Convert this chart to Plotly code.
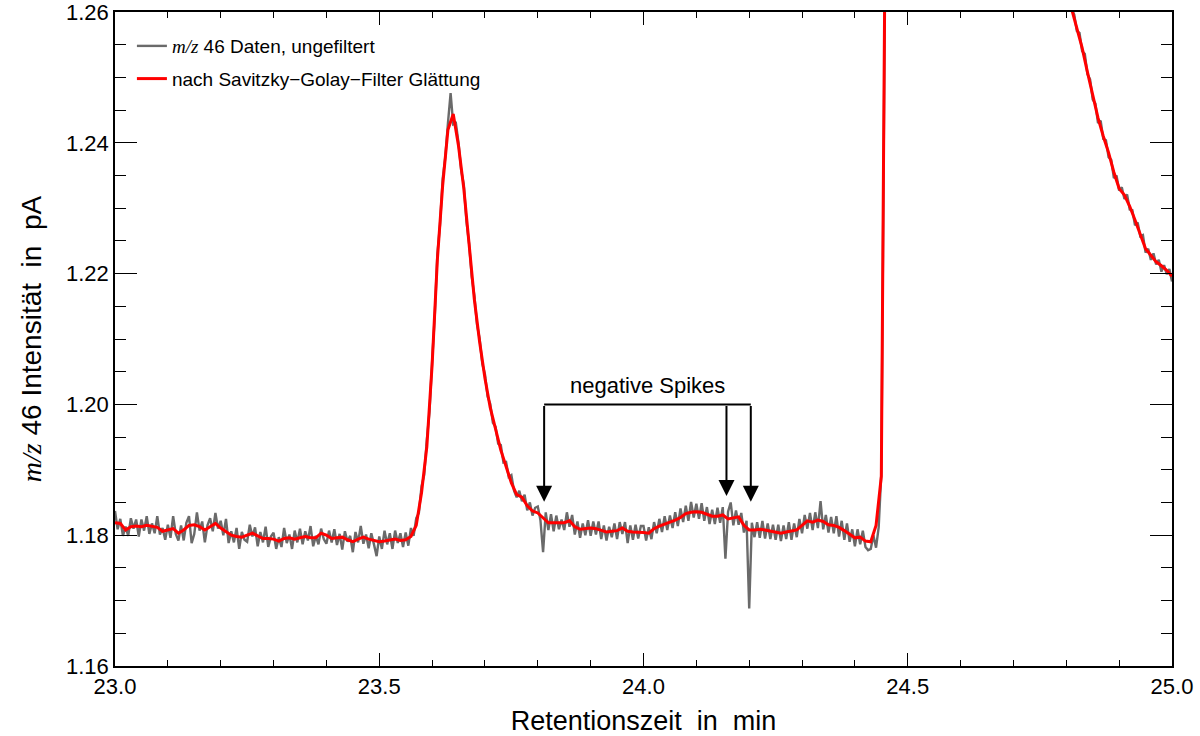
import numpy as np
import plotly.graph_objects as go

# ---------------- data ----------------
# raw m/z 46 signal, sampled every 0.005 min starting at 23.000 min (one row = 0.05 min)
raw_t0 = 23.0
raw_dt = 0.005
raw_signal = [
    1.1837, 1.1809, 1.1825, 1.1799, 1.1813, 1.1799, 1.1826, 1.1810, 1.1824, 1.1798,  # 23.00
    1.1824, 1.1807, 1.1829, 1.1802, 1.1818, 1.1803, 1.1829, 1.1801, 1.1811, 1.1793,  # 23.05
    1.1816, 1.1796, 1.1829, 1.1802, 1.1792, 1.1815, 1.1792, 1.1819, 1.1829, 1.1788,  # 23.10
    1.1802, 1.1835, 1.1807, 1.1821, 1.1789, 1.1815, 1.1826, 1.1806, 1.1834, 1.1810,  # 23.15
    1.1822, 1.1800, 1.1825, 1.1788, 1.1806, 1.1789, 1.1811, 1.1779, 1.1805, 1.1793,  # 23.20
    1.1790, 1.1816, 1.1798, 1.1812, 1.1783, 1.1805, 1.1789, 1.1813, 1.1782, 1.1798,  # 23.25
    1.1804, 1.1779, 1.1797, 1.1782, 1.1811, 1.1788, 1.1801, 1.1779, 1.1807, 1.1789,  # 23.30
    1.1810, 1.1786, 1.1806, 1.1792, 1.1814, 1.1783, 1.1799, 1.1786, 1.1810, 1.1794,  # 23.35
    1.1787, 1.1807, 1.1789, 1.1809, 1.1785, 1.1802, 1.1778, 1.1806, 1.1790, 1.1799,  # 23.40
    1.1774, 1.1805, 1.1789, 1.1814, 1.1787, 1.1801, 1.1780, 1.1803, 1.1786, 1.1768,  # 23.45
    1.1798, 1.1779, 1.1807, 1.1786, 1.1803, 1.1779, 1.1807, 1.1788, 1.1803, 1.1782,  # 23.50
    1.1804, 1.1784, 1.1811, 1.1799, 1.1826, 1.1834, 1.1875, 1.1892, 1.1946, 1.1988,  # 23.55
    1.2065, 1.2135, 1.2230, 1.2275, 1.2345, 1.2378, 1.2430, 1.2476, 1.2428, 1.2430,  # 23.60
    1.2400, 1.2358, 1.2336, 1.2280, 1.2246, 1.2195, 1.2166, 1.2122, 1.2100, 1.2062,  # 23.65
    1.2046, 1.2012, 1.2001, 1.1972, 1.1966, 1.1940, 1.1938, 1.1911, 1.1912, 1.1889,  # 23.70
    1.1892, 1.1868, 1.1858, 1.1868, 1.1852, 1.1862, 1.1838, 1.1850, 1.1830, 1.1842,  # 23.75
    1.1844, 1.1823, 1.1774, 1.1835, 1.1808, 1.1832, 1.1806, 1.1830, 1.1809, 1.1824,  # 23.80
    1.1808, 1.1835, 1.1813, 1.1831, 1.1801, 1.1821, 1.1796, 1.1818, 1.1800, 1.1823,  # 23.85
    1.1799, 1.1821, 1.1801, 1.1821, 1.1794, 1.1815, 1.1792, 1.1813, 1.1797, 1.1818,  # 23.90
    1.1794, 1.1820, 1.1802, 1.1820, 1.1788, 1.1815, 1.1793, 1.1816, 1.1795, 1.1814,  # 23.95
    1.1814, 1.1792, 1.1812, 1.1794, 1.1820, 1.1803, 1.1825, 1.1805, 1.1829, 1.1808,  # 24.00
    1.1830, 1.1811, 1.1835, 1.1814, 1.1841, 1.1820, 1.1845, 1.1822, 1.1851, 1.1827,  # 24.05
    1.1848, 1.1825, 1.1849, 1.1822, 1.1843, 1.1817, 1.1839, 1.1817, 1.1842, 1.1819,  # 24.10
    1.1843, 1.1764, 1.1836, 1.1850, 1.1815, 1.1838, 1.1816, 1.1834, 1.1804, 1.1822,  # 24.15
    1.1688, 1.1819, 1.1797, 1.1820, 1.1796, 1.1822, 1.1795, 1.1818, 1.1794, 1.1816,  # 24.20
    1.1793, 1.1816, 1.1791, 1.1815, 1.1794, 1.1820, 1.1793, 1.1818, 1.1797, 1.1825,  # 24.25
    1.1803, 1.1831, 1.1810, 1.1834, 1.1808, 1.1835, 1.1811, 1.1852, 1.1809, 1.1831,  # 24.30
    1.1804, 1.1828, 1.1803, 1.1829, 1.1798, 1.1822, 1.1793, 1.1818, 1.1790, 1.1809,  # 24.35
    1.1783, 1.1809, 1.1786, 1.1807, 1.1782, 1.1777, 1.1779, 1.1800, 1.1781, 1.1812,  # 24.40
    1.1895, 1.2450, 1.3000, 1.3600, 1.4200, 1.4600, 1.5000, 1.5250, 1.5450, 1.5600,  # 24.45
    1.5700, 1.5770, 1.5820, 1.5840, 1.5850, 1.5830, 1.5800, 1.5750, 1.5700, 1.5630,  # 24.50
    1.5560, 1.5480, 1.5400, 1.5300, 1.5210, 1.5110, 1.5020, 1.4920, 1.4830, 1.4730,  # 24.55
    1.4640, 1.4540, 1.4450, 1.4360, 1.4270, 1.4180, 1.4100, 1.4020, 1.3940, 1.3860,  # 24.60
    1.3790, 1.3720, 1.3650, 1.3580, 1.3520, 1.3460, 1.3400, 1.3340, 1.3290, 1.3240,  # 24.65
    1.3190, 1.3140, 1.3100, 1.3060, 1.3020, 1.2980, 1.2950, 1.2920, 1.2890, 1.2860,  # 24.70
    1.2835, 1.2810, 1.2785, 1.2760, 1.2740, 1.2720, 1.2700, 1.2680, 1.2665, 1.2650,  # 24.75
    1.2635, 1.2620, 1.2605, 1.2596, 1.2571, 1.2568, 1.2540, 1.2536, 1.2505, 1.2497,  # 24.80
    1.2466, 1.2460, 1.2430, 1.2434, 1.2406, 1.2404, 1.2378, 1.2374, 1.2346, 1.2350,  # 24.85
    1.2327, 1.2332, 1.2314, 1.2321, 1.2298, 1.2297, 1.2274, 1.2278, 1.2257, 1.2259,  # 24.90
    1.2232, 1.2238, 1.2221, 1.2231, 1.2214, 1.2221, 1.2203, 1.2213, 1.2199, 1.2207,  # 24.95
    1.2188,                                                                          # 25.00
]

# Savitzky-Golay smoothed signal, every 0.01 min starting at 23.00 min (one row = 0.1 min)
sg_t0 = 23.0
sg_dt = 0.01
sg_signal = [
    1.1819, 1.1818, 1.1808, 1.1813, 1.1814, 1.1813, 1.1815, 1.1814, 1.1812, 1.1806,  # 23.0
    1.1808, 1.1810, 1.1803, 1.1808, 1.1815, 1.1816, 1.1813, 1.1808, 1.1813, 1.1818,  # 23.1
    1.1811, 1.1805, 1.1800, 1.1798, 1.1797, 1.1800, 1.1803, 1.1799, 1.1795, 1.1795,  # 23.2
    1.1794, 1.1791, 1.1795, 1.1796, 1.1794, 1.1796, 1.1798, 1.1796, 1.1796, 1.1803,  # 23.3
    1.1800, 1.1795, 1.1796, 1.1797, 1.1793, 1.1790, 1.1794, 1.1797, 1.1794, 1.1792,  # 23.4
    1.1790, 1.1791, 1.1793, 1.1794, 1.1792, 1.1793, 1.1798, 1.1815, 1.1865, 1.1935,  # 23.5
    1.2060, 1.2222, 1.2335, 1.2420, 1.2444, 1.2395, 1.2330, 1.2240, 1.2160, 1.2095,  # 23.6
    1.2040, 1.1995, 1.1960, 1.1930, 1.1905, 1.1880, 1.1862, 1.1858, 1.1845, 1.1837,  # 23.7
    1.1834, 1.1826, 1.1819, 1.1819, 1.1819, 1.1819, 1.1822, 1.1813, 1.1809, 1.1810,  # 23.8
    1.1811, 1.1810, 1.1808, 1.1805, 1.1806, 1.1807, 1.1811, 1.1806, 1.1805, 1.1805,  # 23.9
    1.1804, 1.1803, 1.1810, 1.1814, 1.1817, 1.1819, 1.1823, 1.1827, 1.1833, 1.1835,  # 24.0
    1.1836, 1.1835, 1.1832, 1.1829, 1.1829, 1.1831, 1.1825, 1.1826, 1.1828, 1.1815,  # 24.1
    1.1808, 1.1808, 1.1809, 1.1808, 1.1806, 1.1804, 1.1803, 1.1805, 1.1806, 1.1808,  # 24.2
    1.1815, 1.1822, 1.1820, 1.1823, 1.1821, 1.1816, 1.1815, 1.1812, 1.1807, 1.1802,  # 24.3
    1.1796, 1.1797, 1.1791, 1.1790, 1.1815, 1.1890, 1.3000, 1.4200, 1.5000, 1.5450,  # 24.4
    1.5700, 1.5820, 1.5850, 1.5800, 1.5700, 1.5560, 1.5400, 1.5210, 1.5020, 1.4830,  # 24.5
    1.4640, 1.4450, 1.4270, 1.4100, 1.3940, 1.3790, 1.3650, 1.3520, 1.3400, 1.3290,  # 24.6
    1.3190, 1.3100, 1.3020, 1.2950, 1.2890, 1.2835, 1.2785, 1.2740, 1.2700, 1.2665,  # 24.7
    1.2635, 1.2605, 1.2575, 1.2545, 1.2508, 1.2472, 1.2438, 1.2410, 1.2385, 1.2355,  # 24.8
    1.2330, 1.2320, 1.2303, 1.2282, 1.2260, 1.2238, 1.2228, 1.2218, 1.2212, 1.2205,  # 24.9
    1.2196,                                                                          # 25.0
]

# annotation: the three marked negative spikes
spike_times = [23.812, 24.157, 24.203]
spike_tip_y = [1.1851, 1.1860, 1.1851]
bracket_y = 1.2000
spike_label = "negative Spikes"

x_range = [23.0, 25.0]
y_range = [1.16, 1.26]
y_ticks = [1.16, 1.18, 1.20, 1.22, 1.24, 1.26]
x_ticks = [23.0, 23.5, 24.0, 24.5, 25.0]

SERIF = "'Liberation Serif', 'Times New Roman', serif"
raw_name = f"<span style=\"font-family:{SERIF}\"><i>m/z</i></span> 46 Daten, ungefiltert"
sg_name = "nach Savitzky\u2212Golay\u2212Filter Glättung"
x_title = "Retentionszeit\u00a0\u00a0in\u00a0\u00a0min"
y_title = f"<span style=\"font-family:{SERIF}\"><i>m/z</i></span> 46 Intensität\u00a0\u00a0in\u00a0\u00a0pA"

# ---------------- figure ----------------
t_raw = np.round(raw_t0 + raw_dt * np.arange(len(raw_signal)), 4)
t_sg = np.round(sg_t0 + sg_dt * np.arange(len(sg_signal)), 4)

FONT = "Liberation Sans, Arial, Helvetica, sans-serif"

fig = go.Figure()
fig.add_trace(go.Scatter(x=t_raw, y=raw_signal, mode="lines", name=raw_name,
                         line=dict(color="#6a6a6a", width=2.4), legendgroup="raw"))
fig.add_trace(go.Scatter(x=t_sg, y=sg_signal, mode="lines", name=sg_name,
                         line=dict(color="#ff0000", width=3), legendgroup="sg"))

# bracket: horizontal line + arrows
fig.add_shape(type="line", xref="x", yref="y", x0=min(spike_times), x1=max(spike_times),
              y0=bracket_y, y1=bracket_y, line=dict(color="black", width=2))
for xs, yt in zip(spike_times, spike_tip_y):
    fig.add_annotation(x=xs, y=yt, ax=xs, ay=bracket_y, xref="x", yref="y", axref="x", ayref="y",
                       text="", showarrow=True, arrowhead=2, arrowsize=1.6, arrowwidth=2,
                       arrowcolor="black", standoff=0)
fig.add_annotation(x=(spike_times[0] + spike_times[-1]) / 2, y=bracket_y, xref="x", yref="y",
                   text=spike_label, showarrow=False, yanchor="bottom", yshift=4,
                   font=dict(family=FONT, size=22, color="black"))

axis_common = dict(showline=True, linecolor="black", linewidth=1.5, mirror="allticks",
                   ticks="inside", tickcolor="black", showgrid=False, zeroline=False,
                   ticklabeloverflow="allow",
                   tickfont=dict(family=FONT, size=22, color="black"))

fig.update_layout(
    width=1200, height=736,
    margin=dict(l=115, r=28, t=12, b=70),
    paper_bgcolor="white", plot_bgcolor="white",
    font=dict(family=FONT, color="black"),
    showlegend=True,
    legend=dict(x=0.016, y=0.977, xanchor="left", yanchor="top", bgcolor="rgba(0,0,0,0)",
                font=dict(family=FONT, size=19, color="black"), itemwidth=30,
                tracegroupgap=5, traceorder="grouped"),
    xaxis=dict(range=x_range, tickmode="array", tickvals=x_ticks, automargin=False,
               ticktext=[f"{v:.1f}" for v in x_ticks], ticklen=13, tickwidth=1.2,
               minor=dict(dtick=0.1, tick0=23.0, ticklen=6.5, ticks="inside", tickcolor="black", tickwidth=1.2),
               title=dict(text=x_title, font=dict(family=FONT, size=27), standoff=22),
               **axis_common),
    yaxis=dict(range=y_range, tickmode="array", tickvals=y_ticks, automargin=False,
               ticktext=[f"{v:.2f}" for v in y_ticks], ticklen=22, tickwidth=1.2,
               minor=dict(dtick=0.005, tick0=1.16, ticklen=11, ticks="inside", tickcolor="black", tickwidth=1.2),
               title=dict(text=y_title, font=dict(family=FONT, size=28), standoff=16),
               **axis_common),
)

fig.write_html("out.html")
